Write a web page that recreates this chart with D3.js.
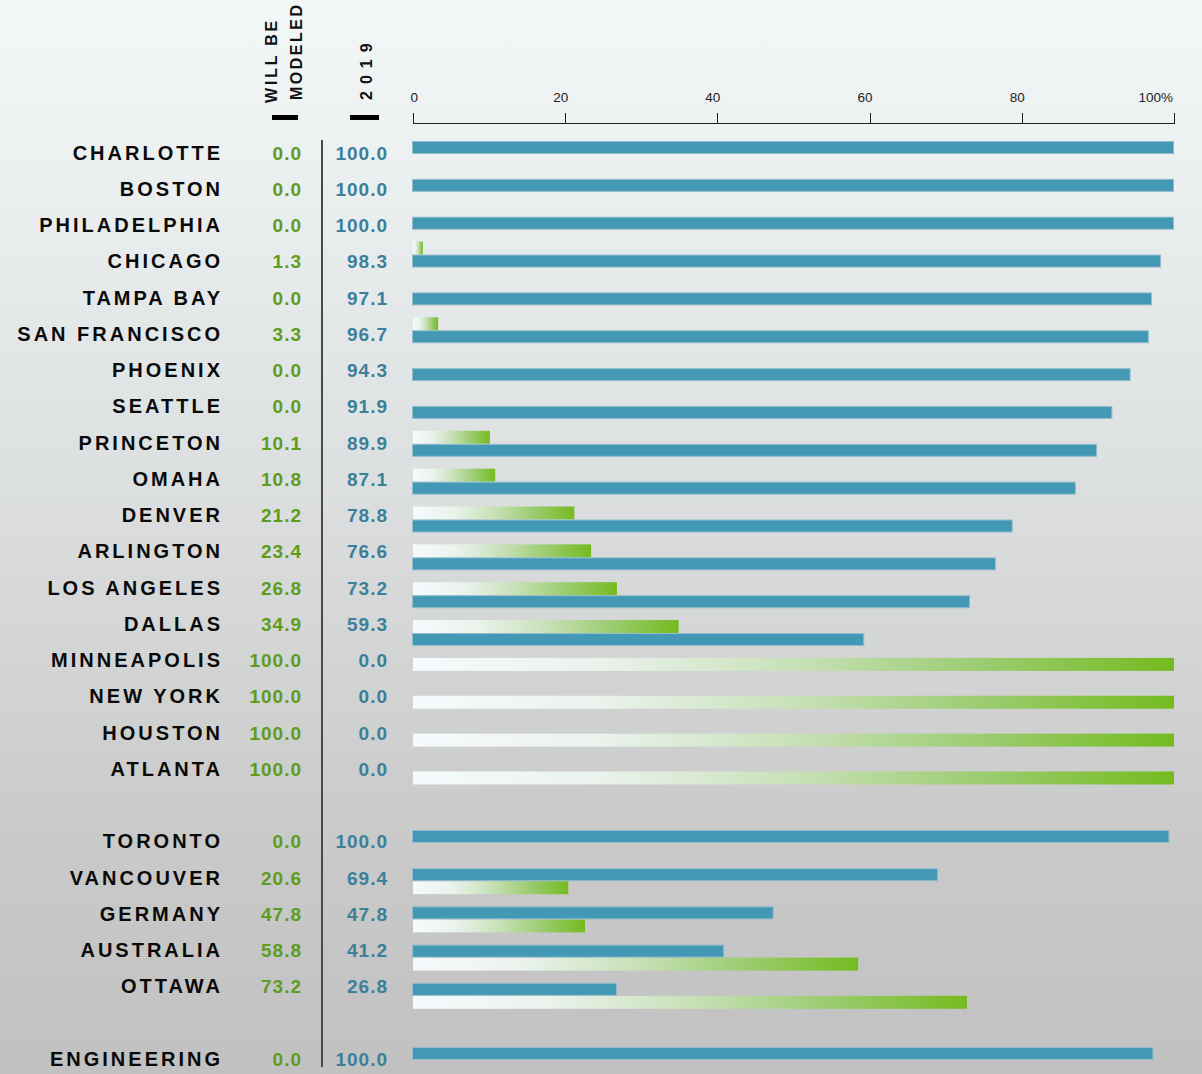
<!DOCTYPE html>
<html>
<head>
<meta charset="utf-8">
<script src="https://cdn.jsdelivr.net/npm/d3@7/dist/d3.min.js"></script>
<style>
  html, body { margin: 0; padding: 0; }
  svg { display: block; font-family: "Liberation Sans", Arial, sans-serif; }
</style>
</head>
<body>
<div class="g-graphic"></div>
<script>
(function(d3) {
    "use strict";

    // rows, top to bottom
    var cities = ["CHARLOTTE", "BOSTON", "PHILADELPHIA", "CHICAGO", "TAMPA BAY", "SAN FRANCISCO",
        "PHOENIX", "SEATTLE", "PRINCETON", "OMAHA", "DENVER", "ARLINGTON", "LOS ANGELES",
        "DALLAS", "MINNEAPOLIS", "NEW YORK", "HOUSTON", "ATLANTA",
        "TORONTO", "VANCOUVER", "GERMANY", "AUSTRALIA", "OTTAWA",
        "ENGINEERING"];
    var sections = ["us", "us", "us", "us", "us", "us", "us", "us", "us", "us", "us", "us", "us",
        "us", "us", "us", "us", "us",
        "ca", "ca", "ca", "ca", "ca",
        "eng"];

    // printed values
    var willBeModeled = [0, 0, 0, 1.3, 0, 3.3, 0, 0, 10.1, 10.8, 21.2, 23.4, 26.8, 34.9, 100, 100, 100, 100,
        0, 20.6, 47.8, 58.8, 73.2,
        0];
    var year2019 = [100, 100, 100, 98.3, 97.1, 96.7, 94.3, 91.9, 89.9, 87.1, 78.8, 76.6, 73.2, 59.3, 0, 0, 0, 0,
        100, 69.4, 47.8, 41.2, 26.8,
        100];

    // bar lengths as drawn (they don't always match the printed numbers)
    var barModeled = [0, 0, 0, 1.3, 0, 3.3, 0, 0, 10.1, 10.8, 21.2, 23.4, 26.8, 34.9, 100, 100, 100, 100,
        0, 20.4, 22.6, 58.5, 72.8,
        0];
    var bar2019 = [100, 100, 100, 98.3, 97.1, 96.7, 94.3, 91.9, 89.9, 87.1, 78.8, 76.6, 73.2, 59.3, 0, 0, 0, 0,
        99.4, 69.0, 47.4, 40.9, 26.8,
        97.3];

    var xTicks = [0, 20, 40, 60, 80, 100];

    var width = 1202, height = 1074,
        blue = "#4398b6",
        greenText = "#5f9c1c",
        blueText = "#3c7f99";

    var svg = d3.select(".g-graphic").append("svg")
        .attr("width", width)
        .attr("height", height);

    var defs = svg.append("defs");

    var bg = defs.append("linearGradient")
        .attr("id", "bg")
        .attr("x1", 0).attr("y1", 0).attr("x2", 0).attr("y2", 1);
    [[0, "#f2f7f8"], [0.13, "#edf1f2"], [0.4, "#dfe2e3"], [0.6, "#d4d5d5"], [0.77, "#c9cac9"], [1, "#c1c1c1"]]
        .forEach(function(s) {
            bg.append("stop").attr("offset", s[0]).attr("stop-color", s[1]);
        });

    var grn = defs.append("linearGradient")
        .attr("id", "grn")
        .attr("x1", 0).attr("y1", 0).attr("x2", 1).attr("y2", 0);
    [[0, "#f5fbfd"], [0.25, "#eaf2ec"], [0.5, "#c8e1b8"], [0.75, "#9bcc70"], [1, "#74bb1f"]]
        .forEach(function(s) {
            grn.append("stop").attr("offset", s[0]).attr("stop-color", s[1]);
        });

    svg.append("rect")
        .attr("width", width)
        .attr("height", height)
        .attr("fill", "url(#bg)");

    var x = d3.scaleLinear().domain([0, 100]).range([413, 1174]);

    // text rows: 26 slots, blank slots between sections
    var slotOf = function(i) {
        if (sections[i] === "us") return i;
        if (sections[i] === "ca") return i + 1;
        return i + 2;
    };
    var yText = d3.scaleLinear().domain([0, 25]).range([159.5, 1065.75]);

    // bar rows (each section drawn on its own spacing)
    var yUS = d3.scaleLinear().domain([0, 17]).range([128, 771.45]);
    var yCA = d3.scaleLinear().domain([0, 4]).range([830, 982.8]);
    var barH = 13;

    var rows = cities.map(function(c, i) {
        var s = sections[i], greenY, blueY;
        if (s === "us") {
            greenY = yUS(i);
            blueY = greenY + barH;
        } else if (s === "ca") {
            blueY = yCA(i - 18);
            greenY = blueY + barH;
        } else {
            blueY = 1047;
            greenY = blueY + barH;
        }
        return {
            name: c, modeled: willBeModeled[i], y2019: year2019[i],
            bm: barModeled[i], b19: bar2019[i],
            ty: yText(slotOf(i)), greenY: greenY, blueY: blueY
        };
    });

    // axis
    var axis = svg.append("g").attr("class", "x axis");
    axis.append("line")
        .attr("x1", x(0)).attr("x2", x(100))
        .attr("y1", 123.5).attr("y2", 123.5)
        .attr("stroke", "#222");
    axis.selectAll(".tick").data(xTicks).enter().append("line")
        .attr("x1", function(d) { return Math.round(x(d)) + 0.5; })
        .attr("x2", function(d) { return Math.round(x(d)) + 0.5; })
        .attr("y1", 113).attr("y2", 124)
        .attr("stroke", "#222");
    axis.selectAll(".lbl").data(xTicks).enter().append("text")
        .attr("x", function(d) { return x(d) + (d === 100 ? -1 : d === 0 ? 5 : 3); })
        .attr("y", 102)
        .attr("text-anchor", "end")
        .attr("font-size", 13.5)
        .attr("fill", "#222")
        .text(function(d) { return d === 100 ? d + "%" : d; });

    // column headers
    var head = svg.append("g")
        .attr("font-weight", "bold")
        .attr("font-size", 16)
        .attr("fill", "#111");
    head.append("text")
        .attr("transform", "translate(277,103) rotate(-90)")
        .attr("letter-spacing", 2.8)
        .text("WILL BE");
    head.append("text")
        .attr("transform", "translate(302,100) rotate(-90)")
        .attr("letter-spacing", 2.5)
        .text("MODELED");
    head.append("text")
        .attr("transform", "translate(372,100) rotate(-90)")
        .attr("letter-spacing", 7)
        .text("2019");
    head.append("rect").attr("x", 272).attr("y", 115).attr("width", 26).attr("height", 5).attr("fill", "#000");
    head.append("rect").attr("x", 350).attr("y", 115).attr("width", 29).attr("height", 5).attr("fill", "#000");

    // divider
    svg.append("line")
        .attr("x1", 322).attr("x2", 322)
        .attr("y1", 140).attr("y2", 1067)
        .attr("stroke", "#4a4a4a")
        .attr("stroke-width", 2);

    // labels
    var lab = svg.append("g");
    lab.selectAll(".name").data(rows).enter().append("text")
        .attr("class", "name")
        .attr("x", 223)
        .attr("y", function(d) { return d.ty; })
        .attr("text-anchor", "end")
        .attr("font-size", 20)
        .attr("font-weight", "bold")
        .attr("letter-spacing", 3)
        .attr("fill", "#0a0a0a")
        .text(function(d) { return d.name; });

    lab.selectAll(".mod").data(rows).enter().append("text")
        .attr("class", "mod")
        .attr("x", 302)
        .attr("y", function(d) { return d.ty; })
        .attr("text-anchor", "end")
        .attr("font-size", 19)
        .attr("font-weight", "bold")
        .attr("letter-spacing", 1)
        .attr("fill", greenText)
        .text(function(d) { return d.modeled.toFixed(1); });

    lab.selectAll(".cur").data(rows).enter().append("text")
        .attr("class", "cur")
        .attr("x", 388)
        .attr("y", function(d) { return d.ty; })
        .attr("text-anchor", "end")
        .attr("font-size", 19)
        .attr("font-weight", "bold")
        .attr("letter-spacing", 1)
        .attr("fill", blueText)
        .text(function(d) { return d.y2019.toFixed(1); });

    // bars
    var bars = svg.append("g");
    bars.selectAll(".gbar").data(rows.filter(function(d) { return d.bm > 0; })).enter().append("rect")
        .attr("class", "gbar")
        .attr("x", x(0))
        .attr("y", function(d) { return d.greenY; })
        .attr("width", function(d) { return x(d.bm) - x(0); })
        .attr("height", barH)
        .attr("fill", "url(#grn)");

    bars.selectAll(".bbar").data(rows.filter(function(d) { return d.b19 > 0; })).enter().append("rect")
        .attr("class", "bbar")
        .attr("x", x(0) - 0.5)
        .attr("y", function(d) { return d.blueY + 0.5; })
        .attr("width", function(d) { return x(d.b19) - x(0); })
        .attr("height", barH - 1)
        .attr("fill", blue)
        .attr("stroke", "#93bdcc")
        .attr("stroke-width", 1);

})(d3);
</script>
</body>
</html>
